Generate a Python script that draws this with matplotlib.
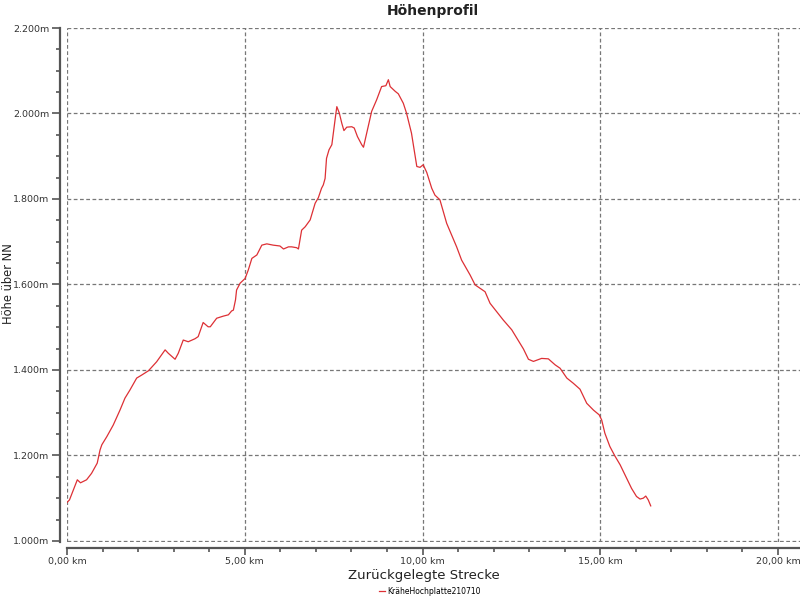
import matplotlib
matplotlib.use("Agg")
import matplotlib.pyplot as plt
from matplotlib.ticker import FuncFormatter, MultipleLocator

title = "Höhenprofil"
x_label = "Zurückgelegte Strecke"
y_label = "Höhe über NN"
series_name = "KräheHochplatte210710"

dist_km = [0.00, 0.07, 0.29, 0.38, 0.55, 0.69, 0.85, 0.93, 0.98, 1.12,
           1.30, 1.49, 1.63, 1.77, 1.96, 2.10, 2.29, 2.52, 2.76, 2.85,
           3.04, 3.13, 3.27, 3.41, 3.60, 3.69, 3.83, 3.97, 4.03, 4.21,
           4.40, 4.54, 4.63, 4.68, 4.74, 4.77, 4.87, 5.01, 5.10, 5.20,
           5.34, 5.48, 5.62, 5.80, 5.99, 6.09, 6.23, 6.32, 6.46, 6.51,
           6.60, 6.70, 6.84, 6.98, 7.07, 7.16, 7.21, 7.26, 7.30, 7.37,
           7.45, 7.54, 7.59, 7.66, 7.73, 7.79, 7.87, 8.01, 8.08, 8.17,
           8.29, 8.34, 8.43, 8.57, 8.71, 8.85, 8.97, 9.04, 9.09, 9.23,
           9.32, 9.46, 9.55, 9.69, 9.84, 9.93, 10.02, 10.12, 10.26, 10.35,
           10.49, 10.68, 10.96, 11.10, 11.34, 11.48, 11.76, 11.90, 12.27, 12.51,
           12.84, 12.98, 13.12, 13.35, 13.54, 13.73, 13.87, 14.06, 14.24, 14.43,
           14.62, 14.81, 14.97, 15.04, 15.13, 15.27, 15.41, 15.56, 15.74, 15.88,
           16.02, 16.12, 16.21, 16.28, 16.35, 16.42]

elev_m = [1090, 1096, 1143, 1136, 1143, 1158, 1182, 1213, 1225, 1244,
          1271, 1306, 1334, 1353, 1381, 1388, 1398, 1419, 1447, 1439,
          1425, 1439, 1470, 1466, 1473, 1478, 1511, 1501, 1501, 1521,
          1526, 1529, 1538, 1540, 1564, 1587, 1603, 1614, 1634, 1661,
          1669, 1692, 1695, 1692, 1690, 1683, 1688, 1688, 1686, 1683,
          1727, 1735, 1751, 1790, 1803, 1825, 1833, 1848, 1895, 1915,
          1927, 1985, 2016, 2001, 1977, 1960, 1968, 1969, 1966, 1946,
          1927, 1921, 1954, 2005, 2032, 2063, 2065, 2079, 2063, 2052,
          2046, 2024, 2001, 1954, 1876, 1874, 1880, 1862, 1825, 1809,
          1798, 1743, 1688, 1657, 1622, 1599, 1583, 1556, 1517, 1494,
          1449, 1425, 1420, 1427, 1426, 1412, 1404, 1381, 1369, 1355,
          1322, 1306, 1295, 1283, 1252, 1221, 1199, 1178, 1147, 1123,
          1104, 1098, 1100, 1105, 1096, 1082]

assert len(dist_km) == len(elev_m)

plt.rcParams['font.family'] = ['DejaVu Sans']

fig = plt.figure(figsize=(8, 6), dpi=100)
ax = fig.add_axes([67/800, (600-542)/600, (800-67)/800, (542-28)/600])

line, = ax.plot(dist_km, elev_m, color='#dd3035', lw=0.9)

ax.set_xlim(0, (800-67)/35.55)
ax.set_ylim(997.5, 2200)

ax.xaxis.set_major_locator(MultipleLocator(5))
ax.xaxis.set_minor_locator(MultipleLocator(1))
ax.yaxis.set_major_locator(MultipleLocator(200))
ax.yaxis.set_minor_locator(MultipleLocator(50))

def fmt_x(v, pos):
    return f"{v:.2f}".replace('.', ',') + " km"

def fmt_y(v, pos):
    return f"{int(round(v)):,}".replace(',', '.') + "m"

ax.xaxis.set_major_formatter(FuncFormatter(fmt_x))
ax.yaxis.set_major_formatter(FuncFormatter(fmt_y))

ax.grid(True, which='major', color='#777777', linestyle=(0, (3, 2)), lw=0.9)
for gl in ax.get_xgridlines() + ax.get_ygridlines():
    gl.set_clip_on(False)

for s in ['top', 'right']:
    ax.spines[s].set_visible(False)
ax.spines['left'].set_position(('outward', 5))
ax.spines['bottom'].set_position(('outward', 4))
for s in ['left', 'bottom']:
    ax.spines[s].set_color('#555555')
    ax.spines[s].set_linewidth(1.6)

ax.tick_params(which='major', length=6, width=1.2, color='#555555',
               labelsize=6.8, labelcolor='#333333')
ax.tick_params(which='minor', length=3, width=1.2, color='#555555')
ax.tick_params(axis='x', which='major', length=5, pad=1.5)
ax.tick_params(axis='y', which='major', pad=1.5)

fig.text(433/800, 1 - 11/600, title, ha='center', va='center',
         fontsize=10, fontweight='bold', color='#222222')
fig.text(424/800, 1 - 575/600, x_label, ha='center', va='center',
         fontsize=9.5, color='#222222')
fig.text(9/800, 1 - 284/600, y_label, ha='center', va='center',
         rotation=90, fontsize=8.3, color='#222222')

fig.legend([line], [series_name], loc='center', bbox_to_anchor=(430/800, 1 - 591/600),
           frameon=False, fontsize=5.5, handlelength=0.8, handletextpad=0.3,
           borderpad=0, borderaxespad=0)

fig.savefig("out.png", dpi=100)
